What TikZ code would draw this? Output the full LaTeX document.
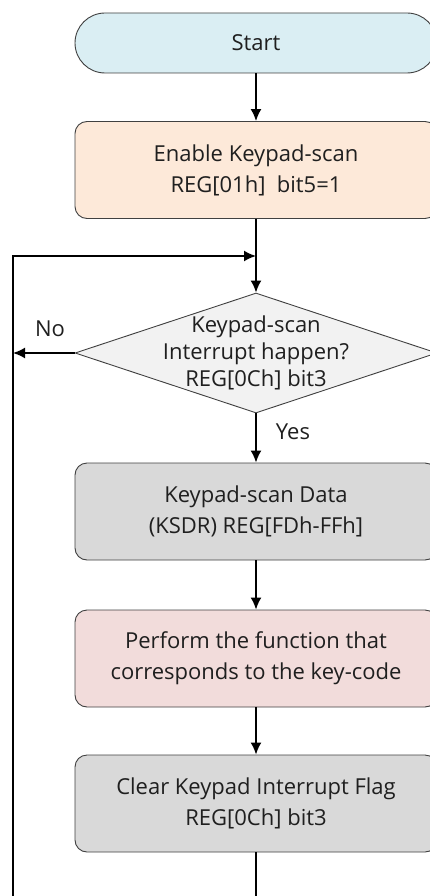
\documentclass[tikz,border=0pt]{standalone}
\usepackage{fontspec}
\setmainfont{Open Sans}
\usepackage{xcolor}
\usetikzlibrary{arrows.meta,positioning,shapes.geometric,calc}
\definecolor{startblue}{HTML}{DAEEF3}
\definecolor{enablepeach}{HTML}{FDE9D9}
\definecolor{checkgray}{HTML}{F2F2F2}
\definecolor{datagray}{HTML}{D9D9D9}
\definecolor{performpink}{HTML}{F2DCDB}
\definecolor{edgegray}{HTML}{404040}
\definecolor{textdark}{HTML}{1F1F1F}

\begin{document}
\begin{tikzpicture}[
  x=1pt, y=-1pt,
  font=\fontsize{22}{31}\selectfont, text=textdark,
  terminal/.style={draw=edgegray, line width=0.9pt, rounded corners=30pt, minimum width=362pt, minimum height=60pt, align=center},
  process/.style={draw=edgegray, line width=0.9pt, rounded corners=12pt, minimum width=362pt, minimum height=97pt, align=center},
  decision/.style={draw=edgegray, line width=0.9pt, diamond, inner sep=0pt, minimum width=362pt, minimum height=120pt},
  arrow/.style={-{Latex[length=12pt,width=11pt]}, line width=1.7pt},
  line/.style={line width=1.7pt}
]
\useasboundingbox (0,0) rectangle (430,896);

\node[terminal, fill=startblue] (start) at (256,43) {Start};
\node[process, fill=enablepeach] (enable) at (256,170) {Enable Keypad-scan\\REG[01h]\ \ bit5=1};
\node[decision, fill=checkgray, label={[align=center, font=\fontsize{22}{27}\selectfont]center:Keypad-scan\\Interrupt happen?\\REG[0Ch] bit3}] (check) at (256,353) {};
\node[process, fill=datagray] (data) at (256,511.5) {Keypad-scan Data\\(KSDR) REG[FDh-FFh]};
\node[process, fill=performpink] (perform) at (256,658.5) {Perform the function that\\corresponds to the key-code};
\node[process, fill=datagray] (clear) at (256,803.5) {Clear Keypad Interrupt Flag\\REG[0Ch] bit3};

\coordinate (join) at (256,256);
\coordinate (loopbl) at (13,896);
\coordinate (loopbr) at (256,896);

\foreach \i/\j in {start/enable, check/data, data/perform, perform/clear} {
  \draw[arrow] (\i) -- (\j);
}
\draw[arrow] (enable.south) -- (check.north);
\draw[arrow] (check.west) -- (check.west -| loopbl);
\draw[line] (clear.south) -- (loopbr);
\draw[arrow] (loopbl) |- (join);

\node (no) at (50,329) {No};
\node (yes) at (293,432) {Yes};
\end{tikzpicture}
\end{document}
